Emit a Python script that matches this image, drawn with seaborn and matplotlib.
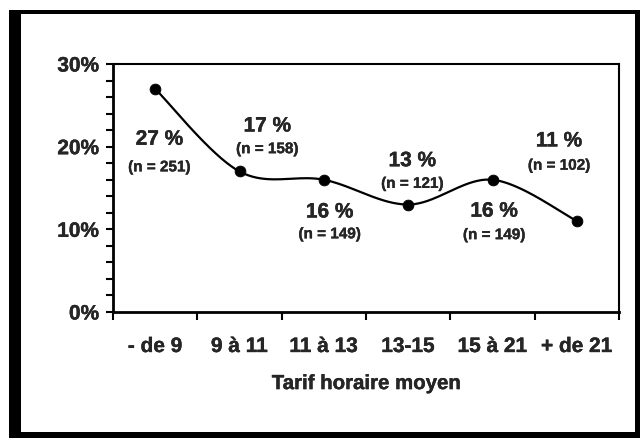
import numpy as np
import pandas as pd
import seaborn as sns
import matplotlib.pyplot as plt
import matplotlib.patheffects as pe
from matplotlib.patches import Rectangle
from matplotlib.ticker import MultipleLocator, FixedLocator

# data
categories = ['- de 9', '9 à 11', '11 à 13', '13-15', '15 à 21', '+ de 21']
pct = [27, 17, 16, 13, 16, 11]
n_obs = [251, 158, 149, 121, 149, 102]

# where the two-line labels sit (x in category units, y in %)
lab_x = [0.05, 1.33, 2.07, 3.05, 4.02, 4.79]
lab_y_big = [20.9, 22.5, 12.1, 18.3, 12.2, 20.7]
lab_y_small = [17.5, 19.7, 9.4, 15.5, 9.3, 17.7]

sns.set_theme(style='white')
plt.rcParams['font.family'] = ['Liberation Sans', 'DejaVu Sans']
plt.rcParams['font.weight'] = 'bold'

heavy = [pe.withStroke(linewidth=0.25, foreground='black')]
heavy_small = [pe.withStroke(linewidth=0.2, foreground='black')]


def smooth(xs, ys, steps=40):
    # Catmull-Rom style bezier, like a spreadsheet "smoothed line"
    p = np.column_stack([xs, ys]).astype(float)
    p = np.vstack([p[0], p, p[-1]])
    t = np.linspace(0, 1, steps)[:, None]
    out = []
    for i in range(1, len(p) - 2):
        p0, p1, p2, p3 = p[i - 1], p[i], p[i + 1], p[i + 2]
        c1 = p1 + (p2 - p0) / 6
        c2 = p2 - (p3 - p1) / 6
        seg = ((1 - t) ** 3) * p1 + 3 * ((1 - t) ** 2) * t * c1 + 3 * (1 - t) * t ** 2 * c2 + t ** 3 * p2
        out.append(seg if i == 1 else seg[1:])
    return np.vstack(out)


df = pd.DataFrame({'x': np.arange(len(categories)), 'pct': pct})
curve = smooth(df['x'], df['pct'])
curve_df = pd.DataFrame({'x': curve[:, 0], 'y': curve[:, 1]})

fig = plt.figure(figsize=(6.4, 4.38), dpi=100)
ax = fig.add_axes([113 / 640, 126 / 438, 506 / 640, 248 / 438])

sns.lineplot(data=curve_df, x='x', y='y', sort=False, estimator=None,
             color='black', linewidth=1.6, ax=ax)
sns.scatterplot(data=df, x='x', y='pct', color='black', s=60,
                edgecolor='black', zorder=3, ax=ax)

for i in range(len(pct)):
    ax.text(lab_x[i], lab_y_big[i], f'{pct[i]} %', ha='center', va='center',
            fontsize=15, fontweight='bold', path_effects=heavy)
    ax.text(lab_x[i], lab_y_small[i], f'(n = {n_obs[i]})', ha='center', va='center',
            fontsize=11, fontweight='bold', path_effects=heavy_small)

ax.set_xlim(-0.5, len(categories) - 0.5)
ax.set_ylim(0, 30)

ax.xaxis.set_major_locator(FixedLocator(range(len(categories))))
ax.set_xticklabels(categories)
ax.xaxis.set_minor_locator(FixedLocator(np.arange(-0.5, len(categories), 1.0)))
ax.tick_params(axis='x', which='major', length=0, pad=18, labelsize=15)
ax.tick_params(axis='x', which='minor', length=6, width=1.5, direction='out',
               bottom=True, color='black')

ax.yaxis.set_major_locator(MultipleLocator(10))
ax.yaxis.set_minor_locator(MultipleLocator(2))
ax.set_yticklabels([f'{int(v)}%' for v in ax.get_yticks()])
ax.tick_params(axis='y', which='both', length=5, width=1.5, direction='out',
               left=True, color='black', labelsize=15, pad=5)

for lab in ax.get_xticklabels() + ax.get_yticklabels():
    lab.set_path_effects(heavy)

for s in ax.spines.values():
    s.set_visible(True)
    s.set_color('black')
    s.set_linewidth(1.5)
ax.spines['bottom'].set_linewidth(2)
ax.spines['left'].set_linewidth(2)

ax.set_xlabel('Tarif horaire moyen', fontsize=14.7, fontweight='bold', labelpad=13,
              path_effects=heavy)
ax.set_ylabel('')

# thick black frame round the figure
for x0, y0, w, h in [(9, 0, 631, 6), (9, 424, 631, 4), (9, 0, 12, 428), (635, 0, 5, 428)]:
    fig.add_artist(Rectangle((x0 / 640, y0 / 438), w / 640, h / 438,
                             transform=fig.transFigure, color='black', lw=0))

fig.savefig('out.png', dpi=100)
